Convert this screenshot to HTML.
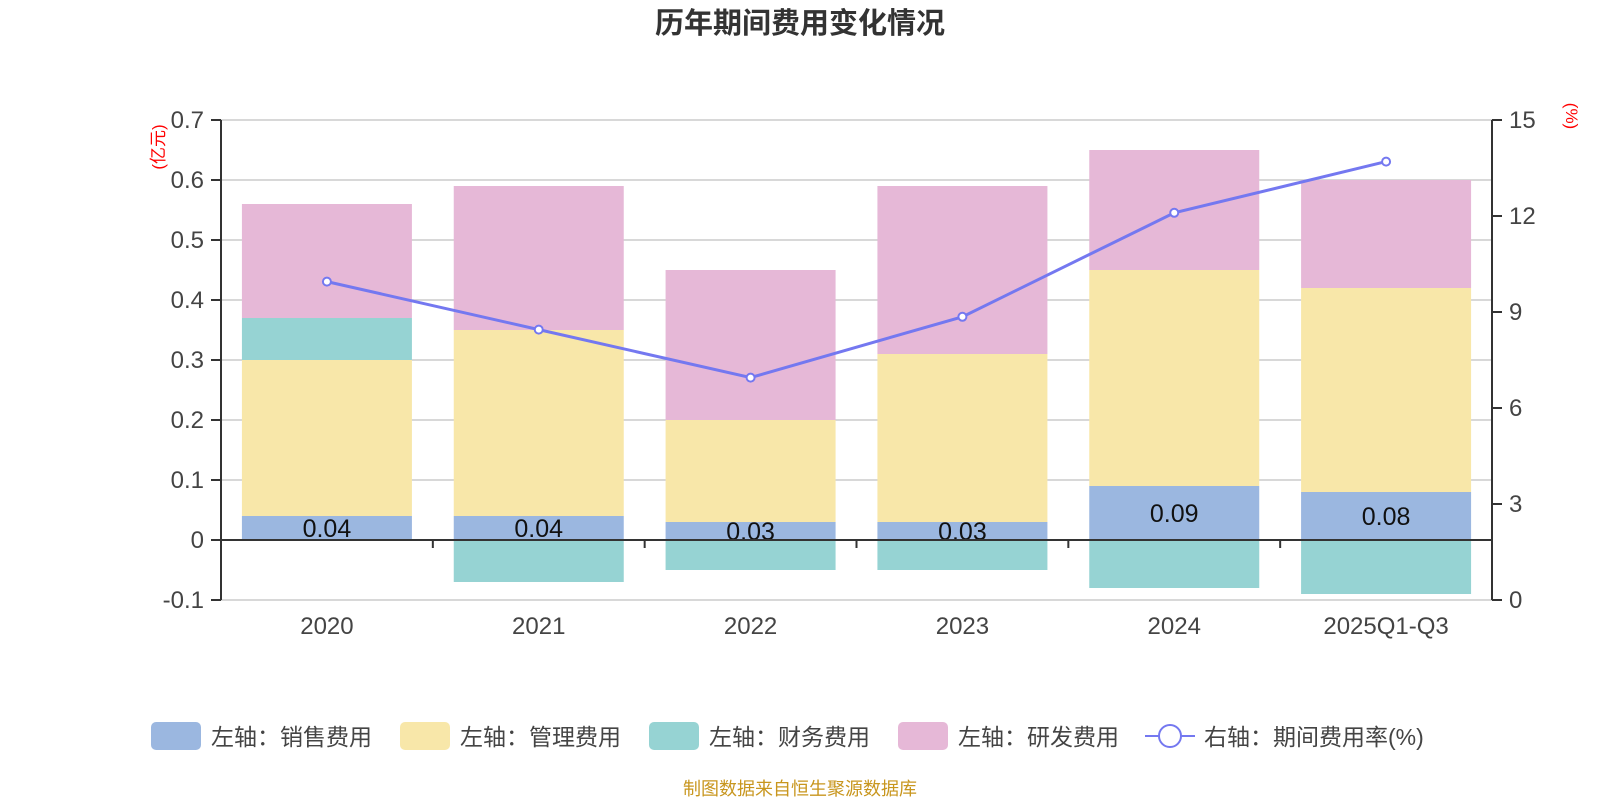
<!DOCTYPE html>
<html><head><meta charset="utf-8"><style>
body{margin:0;background:#fff;}
svg text{font-family:"Liberation Sans","Noto Sans CJK SC",sans-serif;}
</style></head><body>
<svg id="chart" width="1600" height="800" xmlns="http://www.w3.org/2000/svg">
<text x="800" y="33" text-anchor="middle" font-size="29" font-weight="bold" fill="#333">历年期间费用变化情况</text>
<g id="grid"></g><g id="bars"></g><g id="axes"></g><g id="line"></g>
<text transform="translate(164,147) rotate(-90)" text-anchor="middle" font-size="17" fill="red">(亿元)</text>
<text transform="translate(1566,116) rotate(90)" text-anchor="middle" font-size="17" fill="red">(%)</text>
<g id="legend"></g>
<text x="800" y="795" text-anchor="middle" font-size="18" fill="#c8961e">制图数据来自恒生聚源数据库</text>
</svg>
<script>
const categories=["2020","2021","2022","2023","2024","2025Q1-Q3"];
const sales=[0.04,0.04,0.03,0.03,0.09,0.08];
const mgmt=[0.26,0.31,0.17,0.28,0.36,0.34];
const fin=[0.07,-0.07,-0.05,-0.05,-0.08,-0.09];
const rd=[0.19,0.24,0.25,0.28,0.20,0.18];
const rate=[9.95,8.45,6.95,8.85,12.1,13.7];
const leftTicks=[-0.1,0,0.1,0.2,0.3,0.4,0.5,0.6,0.7];
const rightTicks=[0,3,6,9,12,15];
const NS="http://www.w3.org/2000/svg";
const X0=221,X1=1492,Y0=600,Y1=120;
const band=(X1-X0)/categories.length;
const yL=v=>Y0-(v+0.1)/0.8*(Y0-Y1);
const yR=v=>Y0-v/15*(Y0-Y1);
const xC=i=>X0+band*(i+0.5);
function mk(p,t,a){const e=document.createElementNS(NS,t);for(const k in a)e.setAttribute(k,a[k]);document.getElementById(p).appendChild(e);return e;}
leftTicks.forEach(v=>{
 const g=mk('grid','line',{x1:X0,x2:X1,y1:yL(v),y2:yL(v),stroke:'#ccc','stroke-width':1.5});
 
 
 mk('axes','line',{x1:X0-10,x2:X0,y1:yL(v),y2:yL(v),stroke:'#333','stroke-width':2});
 const t=mk('axes','text',{x:X0-17,y:yL(v)+8,'text-anchor':'end','font-size':24,fill:'#444'});
 t.textContent=String(v);
 
 
});
rightTicks.forEach(v=>{
 mk('axes','line',{x1:X1,x2:X1+10,y1:yR(v),y2:yR(v),stroke:'#333','stroke-width':2});
 const t=mk('axes','text',{x:X1+17,y:yR(v)+8,'font-size':24,fill:'#444'});
 t.textContent=String(v);
 
 
});
mk('axes','line',{x1:X0,x2:X0,y1:Y1,y2:Y0,stroke:'#333','stroke-width':2});
mk('axes','line',{x1:X1,x2:X1,y1:Y1,y2:Y0,stroke:'#333','stroke-width':2});
mk('axes','line',{x1:X0,x2:X1,y1:yL(0),y2:yL(0),stroke:'#333','stroke-width':2});
const bw=170;
const cols=['#9bb7e0','#f8e7a9','#96d3d3','#e6b8d7'];
categories.forEach((c,i)=>{
 mk('axes','line',{x1:X0+band*i,x2:X0+band*i,y1:yL(0),y2:yL(0)+8,stroke:'#333','stroke-width':2});
 const t=mk('axes','text',{x:xC(i),y:yL(-0.1)+34,'text-anchor':'middle','font-size':24,fill:'#444'});
 t.textContent=c;
 
 
 let pos=0,neg=0;
 [sales,mgmt,fin,rd].forEach((s,k)=>{
  const v=s[i];let a,b;
  if(v>=0){a=pos;b=pos+v;pos=b;}else{a=neg;b=neg+v;neg=b;}
  const r=mk('bars','rect',{x:xC(i)-bw/2,y:Math.min(yL(a),yL(b)),width:bw,height:Math.abs(yL(a)-yL(b)),fill:cols[k]});
  
  
 });
 const lb=mk('bars','text',{x:xC(i),y:(yL(0)+yL(sales[i]))/2+9,'text-anchor':'middle','font-size':25,fill:'#111'});
 lb.textContent=sales[i].toFixed(2);
 
 
});
const pl=mk('line','polyline',{points:rate.map((v,i)=>xC(i)+','+yR(v)).join(' '),fill:'none',stroke:'#7478f0','stroke-width':3});


rate.forEach((v,i)=>{
 const p=mk('line','circle',{cx:xC(i),cy:yR(v),r:4,fill:'#fff',stroke:'#7478f0','stroke-width':2});
 
 
});
const leg=[['左轴：销售费用',151],['左轴：管理费用',400],['左轴：财务费用',649],['左轴：研发费用',898]];
leg.forEach(([t,x],k)=>{
 const r=mk('legend','rect',{x:x,y:722,width:50,height:28,rx:5,fill:cols[k]});
 
 
 const tx=mk('legend','text',{x:x+60,y:745,'font-size':23,fill:'#444'});
 tx.textContent=t;
 
 
});
mk('legend','line',{x1:1145,x2:1195,y1:736,y2:736,stroke:'#7478f0','stroke-width':2});
const lc=mk('legend','circle',{cx:1170,cy:736,r:11,fill:'#fff',stroke:'#7478f0','stroke-width':2});


const lt=mk('legend','text',{x:1204,y:745,'font-size':23,fill:'#444'});
lt.textContent='右轴：期间费用率(%)';


</script>
</body></html>
